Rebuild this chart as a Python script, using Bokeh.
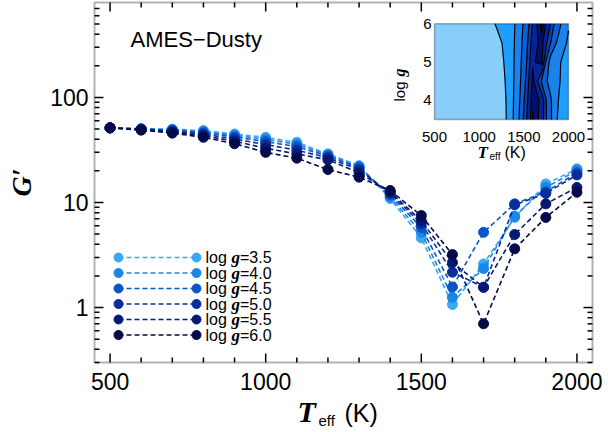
import numpy as np
from math import log10, pi
from bokeh.plotting import figure
from bokeh.models import Range1d, Label, BoxAnnotation, LinearScale
from bokeh.embed import file_html
from bokeh.resources import INLINE

# ---------------- data ----------------
teff = [500, 600, 700, 800, 900, 1000, 1100, 1200, 1300, 1400, 1500, 1600, 1700, 1800, 1900, 2000]
logg_values = [3.5, 4.0, 4.5, 5.0, 5.5, 6.0]
logg_labels = ["3.5", "4.0", "4.5", "5.0", "5.5", "6.0"]

g35 = [51.3, 50.2, 49.9, 48.3, 44.8, 41.7, 37.4, 29.0, 22.4, 10.9, 4.6, 1.07, 2.6, 7.2, 15.0, 20.9]
g40 = [51.3, 50.2, 49.3, 47.2, 43.5, 40.0, 35.8, 28.4, 22.0, 11.3, 5.17, 1.25, 2.35, 7.4, 13.9, 20.2]
g45 = [51.3, 50.0, 48.6, 46.0, 42.0, 38.0, 34.0, 27.6, 21.4, 11.8, 5.77, 1.57, 5.2, 9.7, 12.6, 19.2]
g50 = [51.3, 49.8, 47.8, 44.6, 40.2, 35.5, 31.5, 26.6, 20.5, 12.2, 6.3, 2.17, 1.56, 9.5, 12.2, 18.3]
g55 = [51.3, 49.4, 46.8, 43.2, 38.3, 32.8, 29.0, 25.5, 19.2, 12.6, 6.7, 2.68, 1.56, 4.95, 9.7, 13.9]
g60 = [51.3, 48.8, 45.7, 41.7, 36.3, 30.0, 26.4, 20.6, 17.4, 13.0, 7.5, 3.19, 0.70, 3.62, 7.2, 12.5]
series = [g35, g40, g45, g50, g55, g60]
colors = ["#3ba7f5", "#1a86e8", "#0b55c8", "#0a2d9c", "#071a73", "#050a4a"]

x_ticks = [500, 1000, 1500, 2000]
x_tick_labels = ["500", "1000", "1500", "2000"]
x_minor = [600, 700, 800, 900, 1100, 1200, 1300, 1400, 1600, 1700, 1800, 1900]
y_ticks = [1, 10, 100]
y_tick_labels = ["1", "10", "100"]
y_minor = [0.3, 0.4, 0.5, 0.6, 0.7, 0.8, 0.9, 2, 3, 4, 5, 6, 7, 8, 9,
           20, 30, 40, 50, 60, 70, 80, 90, 200, 300, 400, 500, 600, 700]

inset_x_ticks = [500, 1000, 1500, 2000]
inset_y_ticks = [4, 5, 6]
contour_levels = [0.3, 1.15, 2.0, 3.5, 5.0, 8.0, 13.0, 22.0, 60.0]
contour_colors = ["#000000", "#041070", "#06249a", "#0a40b8", "#0a60d8", "#1a82ea", "#1e9fff", "#87cefa"]

# ---------------- geometry (page pixels) ----------------
W, H = 608, 432
FX0, FX1, FY0, FY1 = 94, 592, 2, 362          # plot box
XR = (450, 2050)
YR = (0.3, 800)
IX0, IX1, IY0, IY1 = 434, 568, 23.3, 119       # inset box
IXR = (500, 2000)
IYR = (3.5, 6.0)
MAJ, MIN = 9, 5                                # tick lengths

sx = (XR[1] - XR[0]) / (FX1 - FX0)
ly = (log10(YR[1]) - log10(YR[0])) / (FY1 - FY0)

def mx(px):
    return XR[0] + (px - FX0) * sx

def my(py):
    return 10 ** (log10(YR[0]) + (FY1 - py) * ly)

isx = (IXR[1] - IXR[0]) / (IX1 - IX0)
isy = (IYR[1] - IYR[0]) / (IY1 - IY0)

def ixp(px):
    return IXR[0] + (px - IX0) * isx

def iyp(py):
    return IYR[0] + (IY1 - py) * isy

p = figure(width=W, height=H, output_backend="svg", toolbar_location=None,
           x_range=Range1d(mx(0), mx(W)), y_range=Range1d(my(H), my(0)),
           y_axis_type="log", x_axis_location=None, y_axis_location=None,
           min_border=0)
p.extra_x_ranges = {"ix": Range1d(ixp(0), ixp(W))}
p.extra_y_ranges = {"iy": Range1d(iyp(H), iyp(0))}
p.extra_x_scales = {"ix": LinearScale()}
p.extra_y_scales = {"iy": LinearScale()}

p.grid.visible = False
p.outline_line_color = None
p.background_fill_color = "white"
p.border_fill_color = "white"

SANS = "Liberation Sans"
SERIF = "Liberation Serif"

def label(x, y, text, size, font=SANS, style="normal", align="left", angle=0, **kw):
    p.add_layout(Label(x=x, y=y, text=text, text_font=font, text_font_style=style,
                       text_font_size=size, text_align=align, text_baseline="middle",
                       text_color="black", angle=angle, **kw))

# ---------------- plot box and ticks ----------------
p.add_layout(BoxAnnotation(left=XR[0], right=XR[1], bottom=YR[0], top=YR[1], fill_alpha=0,
                           line_color="black", line_width=2))

def xticks(ticks, length):
    x = list(ticks) * 2
    y0 = [YR[0]] * len(ticks) + [YR[1]] * len(ticks)
    y1 = [my(FY1 - length)] * len(ticks) + [my(FY0 + length)] * len(ticks)
    p.segment(x0=x, y0=y0, x1=x, y1=y1, line_color="black", line_width=1.5)

def yticks(ticks, length):
    y = list(ticks) * 2
    x0 = [XR[0]] * len(ticks) + [XR[1]] * len(ticks)
    x1 = [mx(FX0 + length)] * len(ticks) + [mx(FX1 - length)] * len(ticks)
    p.segment(x0=x0, y0=y, x1=x1, y1=y, line_color="black", line_width=1.5)

xticks(x_ticks, MAJ)
xticks(x_minor, MIN)
yticks(y_ticks, MAJ)
yticks(y_minor, MIN)

for t, lab in zip(x_ticks, x_tick_labels):
    label(t, my(381), lab, "23px", align="center")
for t, lab in zip(y_ticks, y_tick_labels):
    label(mx(88), t, lab, "23px", align="right")

# ---------------- data lines ----------------
for vals, col in zip(series, colors):
    p.line(teff, vals, line_color=col, line_width=1.6, line_dash="5 3")
    p.scatter(teff, vals, size=10, fill_color=col, line_color=col)

# ---------------- legend ----------------
leg_rows = [257, 272.5, 288, 303.5, 319, 334.5]
for lab, col, py in zip(logg_labels, colors, leg_rows):
    yy = my(py)
    xs = [mx(118), mx(196)]
    p.line(xs, [yy, yy], line_color=col, line_width=1.6, line_dash="5 3")
    p.scatter(xs, [yy, yy], size=9, fill_color=col, line_color=col)
    label(mx(205), yy, "log", "16px")
    label(mx(231), yy, "g", "17px", font=SERIF, style="bold italic")
    label(mx(239.5), yy, "=" + lab, "16px")

# ---------------- title and axis titles ----------------
label(mx(130), my(38.5), "AMES\u2212Dusty", "22px")
label(mx(297), my(411), "T", "30px", font=SERIF, style="bold italic")
label(mx(318), my(420), "eff", "15px")
label(mx(344), my(412), "(K)", "25px")
label(mx(21), my(182), "G\u2032", "28px", font=SERIF, style="bold italic", align="center",
      angle=pi / 2)

# ---------------- inset ----------------
cr = p.contour(x=teff, y=logg_values, z=np.array(series), levels=contour_levels,
               fill_color=contour_colors, line_color="black", line_width=1.2)
for r in (cr, cr.fill_renderer, cr.line_renderer):
    r.x_range_name = "ix"
    r.y_range_name = "iy"

p.add_layout(BoxAnnotation(left=IXR[0], right=IXR[1], bottom=IYR[0], top=IYR[1],
                           x_range_name="ix", y_range_name="iy", fill_alpha=0,
                           line_color="black", line_width=1.5))

for t in inset_x_ticks:
    label(t, iyp(136), str(t), "15px", align="center", x_range_name="ix", y_range_name="iy")
for t in inset_y_ticks:
    label(ixp(431), t, str(t), "15px", align="right", x_range_name="ix", y_range_name="iy")

label(ixp(399), iyp(101), "log", "15px", angle=pi / 2, x_range_name="ix", y_range_name="iy")
label(ixp(399), iyp(76), "g", "16px", font=SERIF, style="bold italic", angle=pi / 2,
      x_range_name="ix", y_range_name="iy")

label(ixp(477), iyp(152), "T", "17px", font=SERIF, style="bold italic",
      x_range_name="ix", y_range_name="iy")
label(ixp(489), iyp(156), "eff", "10px", x_range_name="ix", y_range_name="iy")
label(ixp(504), iyp(152), "(K)", "16px", x_range_name="ix", y_range_name="iy")

open("out.html", "w").write(file_html(p, INLINE))
